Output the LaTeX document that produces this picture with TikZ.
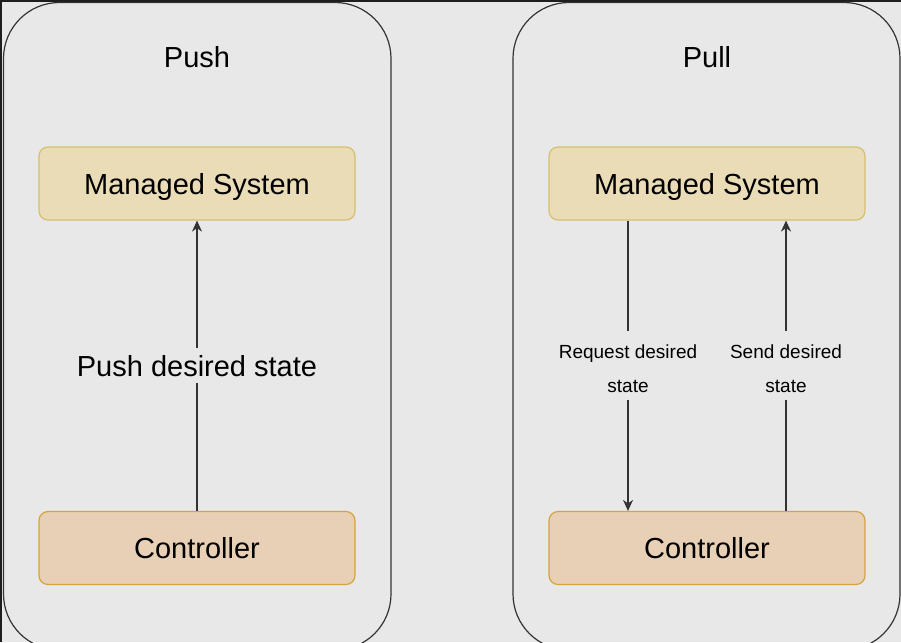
\documentclass[tikz,border=0pt]{standalone}
\usepackage{fontspec}
\setmainfont{Liberation Sans}
\usetikzlibrary{arrows.meta}
\definecolor{bg}{HTML}{E8E8E8}
\definecolor{dark}{HTML}{1E1E1E}
\definecolor{edge}{HTML}{333333}
\definecolor{msfill}{HTML}{E9DCB7}
\definecolor{msdraw}{HTML}{D6C070}
\definecolor{ctfill}{HTML}{E8D0B7}
\definecolor{ctdraw}{HTML}{D6A43A}
\tikzset{
  container/.style={draw=edge, line width=1.2pt, rounded corners=56pt},
  msbox/.style={draw=msdraw, fill=msfill, line width=1.2pt, rounded corners=9pt,
    minimum width=316pt, minimum height=73pt, inner sep=0pt,
    text height=21pt, text depth=0pt,
    font=\fontsize{29}{34}\selectfont, text=black},
  ctbox/.style={draw=ctdraw, fill=ctfill, line width=1.2pt, rounded corners=9pt,
    minimum width=316pt, minimum height=73pt, inner sep=0pt,
    text height=21pt, text depth=0pt,
    font=\fontsize{29}{34}\selectfont, text=black},
  titletext/.style={font=\fontsize{29}{34}\selectfont, text=black},
  arr/.style={draw=edge, line width=1.2pt, -{Stealth[length=11pt,width=10pt,inset=3.5pt]}},
  biglabel/.style={fill=bg, inner xsep=2pt, inner ysep=7pt,
    font=\fontsize{29}{34}\selectfont, text=black},
  smalllabel/.style={fill=bg, inner xsep=2pt, inner ysep=7.5pt, align=center,
    font=\fontsize{19}{34}\selectfont, text=black},
}
\begin{document}
\begin{tikzpicture}[x=1pt,y=-1pt]
\useasboundingbox (0,0) rectangle (901,642);
\fill[bg] (0,0) rectangle (901,642);
\begin{scope}
\clip (0,0) rectangle (901,642);
\draw[container] (3.5,2.5) rectangle (391,650);
\draw[container] (513,2.5) rectangle (900,650);
\end{scope}
\fill[dark] (0,0) rectangle (901,2);
\fill[dark] (0,0) rectangle (2,642);

% Push
\node[titletext] (t1) at (197,57) {Push};
\node[msbox] (m1) at (197,183.5) {Managed System};
\node[ctbox] (c1) at (197,548) {Controller};
\draw[arr] (c1.north) -- node[biglabel] (l1) {Push desired state} (m1.south);

% Pull
\node[titletext] (t2) at (707,57) {Pull};
\node[msbox] (m2) at (707,183.5) {Managed System};
\node[ctbox] (c2) at (707,548) {Controller};
\draw[arr] ([xshift=-79pt]m2.south) -- node[smalllabel] (l2) {\rule{0pt}{20pt}Request desired\\state} ([xshift=-79pt]c2.north);
\draw[arr] ([xshift=79pt]c2.north) -- node[smalllabel] (l3) {\rule{0pt}{20pt}Send desired\\state} ([xshift=79pt]m2.south);
\end{tikzpicture}
\end{document}
